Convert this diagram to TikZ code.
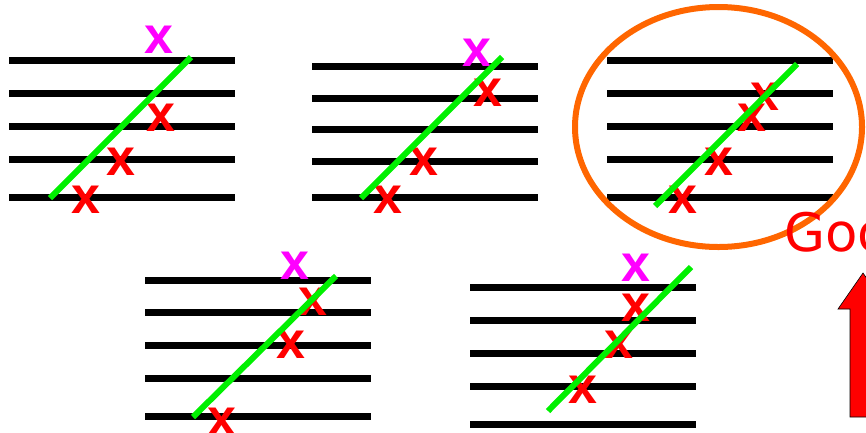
\documentclass[tikz,border=0pt]{standalone}
\usepackage{fontspec}
\setmainfont{DejaVu Sans}
\newfontfamily\markfont{Liberation Sans}
\usepackage{xcolor}
\usetikzlibrary{calc,arrows.meta,positioning}
\definecolor{redx}{HTML}{FF0000}
\definecolor{magx}{HTML}{FF00FF}
\definecolor{greenx}{HTML}{00F000}
\definecolor{orangex}{HTML}{FF6600}
\tikzset{
  rule/.style={line width=7pt,black},
  fitline/.style={line width=6pt,greenx},
  mk/.style={font=\markfont\bfseries\fontsize{52}{52}\selectfont,inner sep=0pt,text=redx},
  outlier/.style={mk,text=magx}
}
\newcommand{\stave}[6]{%
  \foreach \y in {#2,#3,#4,#5,#6}{\draw[rule] (#1,\y)--++(226,0);}}

\begin{document}
\begin{tikzpicture}[x=1pt,y=-1pt]
\useasboundingbox (0,0) rectangle (866,432);
\clip (0,0) rectangle (866,432);
% panel 1
\stave{9}{60}{93}{126}{159}{197}
\node[outlier] (o1) at (159,40) {x};
\node[mk] (a1) at (161,118) {x};
\node[mk] (a2) at (121,162) {x};
\node[mk] (a3) at (86,200) {x};
\draw[fitline] (50,198)--(191,57);
% panel 2
\stave{312}{66}{98}{129}{161}{197}
\node[outlier] (o2) at (477,53) {x};
\node[mk] (b1) at (488,93) {x};
\node[mk] (b2) at (424,162) {x};
\node[mk] (b3) at (388,200) {x};
\draw[fitline] (361,198)--(502,57);
% panel 3 (the good one)
\stave{607}{60}{93}{126}{159}{197}
\node[mk] (c1) at (765,97) {x};
\node[mk] (c2) at (752,118) {x};
\node[mk] (c3) at (719,162) {x};
\node[mk] (c4) at (683,200) {x};
\draw[fitline] (655,206)--(797,64);
\draw[orangex,line width=6pt] (718.5,127) ellipse [x radius=143.5,y radius=120];
% panel 4
\stave{145}{280}{312}{345}{378}{416}
\node[outlier] (o4) at (295,266) {x};
\node[mk] (d1) at (313,302) {x};
\node[mk] (d2) at (291,345) {x};
\node[mk] (d3) at (222,422) {x};
\draw[fitline] (193,417)--(336,276);
% panel 5
\stave{470}{287}{320}{353}{386}{424}
\node[outlier] (o5) at (636,268) {x};
\node[mk] (e1) at (636,308) {x};
\node[mk] (e2) at (619,345) {x};
\node[mk] (e3) at (583,390) {x};
\draw[fitline] (548,411)--(691,267);
% label and arrow
\node[anchor=base west,inner sep=0pt,text=redx,font=\fontsize{53}{53}\selectfont] (good) at (784,251) {Good};
\draw[fill=redx,draw=black,line width=0.6pt] (863,273)--(888,309)--(876,309)--(876,417)--(850,417)--(850,309)--(838,309)--cycle;
\end{tikzpicture}
\end{document}
